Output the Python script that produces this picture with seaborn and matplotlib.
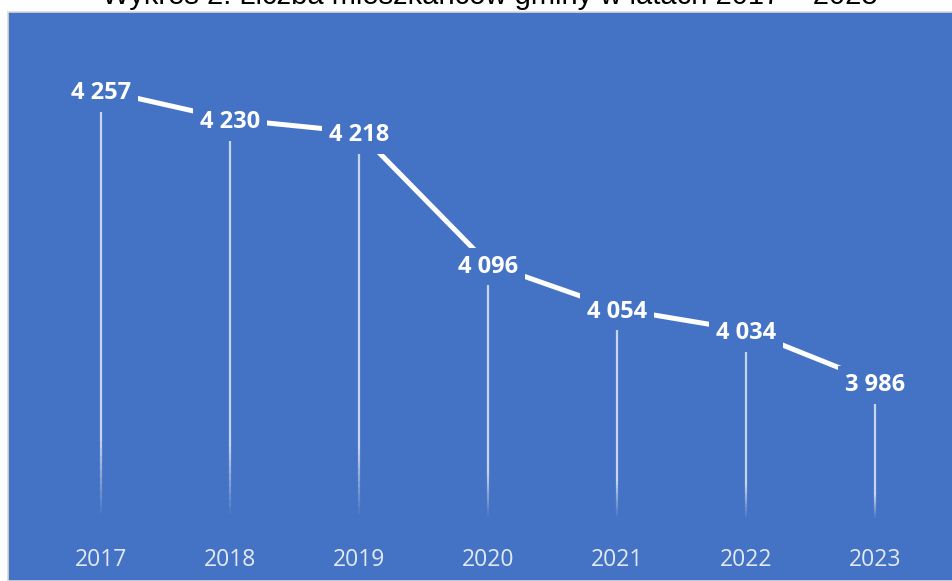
import numpy as np
import pandas as pd
import seaborn as sns
import matplotlib.pyplot as plt
from matplotlib.patches import Rectangle
from matplotlib.collections import LineCollection

# dane: liczba mieszkańców gminy
lata = ["2017", "2018", "2019", "2020", "2021", "2022", "2023"]
mieszkancy = [4257, 4230, 4218, 4096, 4054, 4034, 3986]

tytul = "Wykres 2. Liczba mieszkańców gminy w latach 2017 – 2023"

niebieski = "#4472C4"
df = pd.DataFrame({"rok": lata, "liczba": mieszkancy})

sns.set_theme(style="white")
plt.rcParams["font.family"] = ["Open Sans", "DejaVu Sans"]

fig = plt.figure(figsize=(9.52, 5.81), dpi=100)
fig.patch.set_facecolor("white")

# niebieskie tło wykresu (obszar wykresu z Excela)
W, H = 952, 581
fig.patches.append(Rectangle((8 / W, 0), 1.0, (H - 12) / H, transform=fig.transFigure,
                             facecolor=niebieski, edgecolor="#D9D9D9", linewidth=1.2, zorder=0))

ax = fig.add_axes([36.5 / W, (H - 520) / H, (939.5 - 36.5) / W, (520 - 46) / H])
ax.set_facecolor("none")
ax.set_zorder(2)

ymin, ymax = 3858, 4298

# linie pionowe od punktu do osi, zanikające w dół
segs, cols = [], []
n = 60
for i, v in enumerate(df["liczba"]):
    ys = np.linspace(ymin, v, n + 1)
    for k in range(n):
        t = k / n  # 0 na dole, 1 na górze
        a = 0.7 * min(1.0, t / 0.18)
        segs.append([(i, ys[k]), (i, ys[k + 1])])
        cols.append((1, 1, 1, a))
ax.add_collection(LineCollection(segs, colors=cols, linewidths=1.6, zorder=2))

sns.lineplot(data=df, x="rok", y="liczba", color="white", linewidth=3.6, ax=ax, zorder=3,
             sort=False)

for i, v in enumerate(df["liczba"]):
    ax.text(i, v, f"{v:,}".replace(",", " "), ha="center", va="center_baseline", color="white",
            fontsize=17, fontweight="bold", zorder=5,
            bbox=dict(boxstyle="square,pad=0.28", facecolor=niebieski, edgecolor="none"))

ax.set_xlim(-0.5, len(lata) - 0.5)
ax.set_ylim(ymin, ymax)
ax.set_xlabel("")
ax.set_ylabel("")
ax.set_yticks([])
ax.tick_params(axis="x", length=0, labelsize=16.5, labelcolor="#E2E9F5", pad=20)
for s in ax.spines.values():
    s.set_visible(False)

fig.text(0.515, 1 - 4 / H, tytul, ha="center", va="baseline", fontsize=21,
         color="black", family=["Liberation Sans", "DejaVu Sans"])

fig.savefig("out.png", dpi=100)
